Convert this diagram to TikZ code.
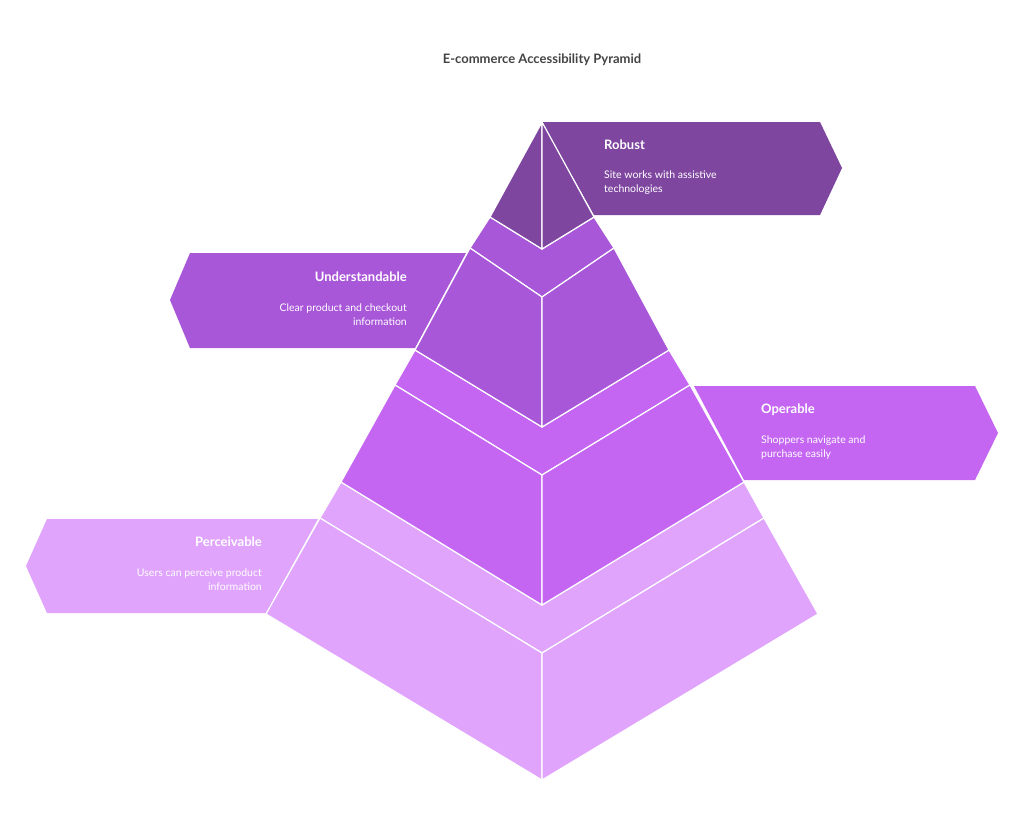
\documentclass[tikz,border=0pt]{standalone}
\usepackage{fontspec}
\setmainfont{Lato}
\definecolor{robustc}{HTML}{7F46A0}
\definecolor{underc}{HTML}{A957D9}
\definecolor{operc}{HTML}{C466F2}
\definecolor{percc}{HTML}{E0A4FC}
\definecolor{titlec}{HTML}{444444}
\tikzset{
  face/.style={draw=white, line width=1.2pt, line join=round},
  head/.style={text=white, font=\bfseries\fontsize{13}{15}\selectfont, inner sep=0pt},
  body/.style={text=white, font=\fontsize{10.5}{13.5}\selectfont, inner sep=0pt}
}
\begin{document}
\begin{tikzpicture}[x=1pt,y=-1pt]
\useasboundingbox[fill=white] (0,0) rectangle (1024,831);
\node[font=\bfseries\fontsize{13}{15}\selectfont, text=titlec] (title) at (542,60) {E-commerce Accessibility Pyramid};
% label boxes
\fill[robustc] (542,122) -- (820,122) -- (842,168) -- (820,215) -- (594,215) -- cycle;
\fill[underc] (466,253) -- (190,253) -- (170,300) -- (190,348) -- (415,348) -- cycle;
\fill[operc] (694,386) -- (975,386) -- (998,433) -- (975,480) -- (744,480) -- cycle;
\fill[percc] (318,519) -- (47,519) -- (26,566) -- (47,613) -- (266,613) -- cycle;
% tier 4
\filldraw[face, fill=percc] (341,482) -- (320,518) -- (542,653) -- (764,518) -- (744,482) -- (542,605) -- cycle;
\filldraw[face, fill=percc] (320,518) -- (542,653) -- (542,780) -- (266,614) -- cycle;
\filldraw[face, fill=percc] (764,518) -- (818,614) -- (542,780) -- (542,653) -- cycle;
% tier 3
\filldraw[face, fill=operc] (415,350) -- (395,385) -- (542,475) -- (690,385) -- (669,350) -- (542,427) -- cycle;
\filldraw[face, fill=operc] (395,385) -- (542,475) -- (542,605) -- (341,482) -- cycle;
\filldraw[face, fill=operc] (690,385) -- (744,482) -- (542,605) -- (542,475) -- cycle;
% tier 2
\filldraw[face, fill=underc] (490,217) -- (470,248) -- (542,297) -- (614,248) -- (594,217) -- (542,249) -- cycle;
\filldraw[face, fill=underc] (470,248) -- (542,297) -- (542,427) -- (415,350) -- cycle;
\filldraw[face, fill=underc] (614,248) -- (669,350) -- (542,427) -- (542,297) -- cycle;
% tier 1
\filldraw[face, fill=robustc] (542,122) -- (490,217) -- (542,249) -- cycle;
\filldraw[face, fill=robustc] (542,122) -- (594,217) -- (542,249) -- cycle;
% texts
\node[head, anchor=west] (robust) at (604,145) {Robust};
\node[body, anchor=north west, align=left] (robusttxt) at (604,171) {Site works with assistive\\technologies};
\node[head, anchor=east] (under) at (407,277) {Understandable};
\node[body, anchor=north east, align=right] (undertxt) at (407,304) {Clear product and checkout\\information};
\node[head, anchor=west] (oper) at (761,410) {Operable};
\node[body, anchor=north west, align=left] (opertxt) at (761,436) {Shoppers navigate and\\purchase easily};
\node[head, anchor=east] (perc) at (262,542) {Perceivable};
\node[body, anchor=north east, align=right] (perctxt) at (262,569) {Users can perceive product\\information};
\end{tikzpicture}
\end{document}
